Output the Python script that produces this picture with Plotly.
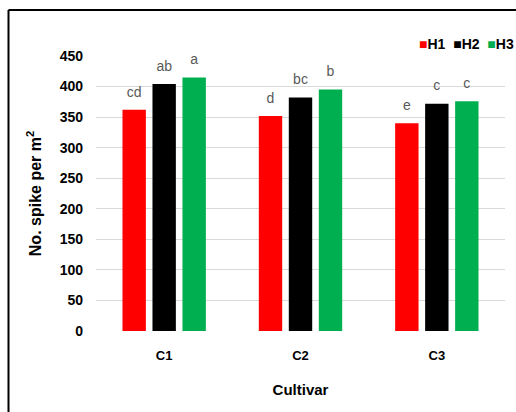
import plotly.graph_objects as go

cultivars = ["C1", "C2", "C3"]
series_names = ["H1", "H2", "H3"]
h1 = [362, 352, 340]
h2 = [404, 382, 372]
h3 = [415, 395, 376]
labels_h1 = ["cd", "d", "e"]
labels_h2 = ["ab", "bc", "c"]
labels_h3 = ["a", "b", "c"]
colors = ["#FF0000", "#000000", "#00B050"]
y_ticks = [0, 50, 100, 150, 200, 250, 300, 350, 400, 450]

FONT = "Liberation Sans, Arial, sans-serif"

fig = go.Figure()
for name, vals, labs, col in zip(series_names, [h1, h2, h3], [labels_h1, labels_h2, labels_h3], colors):
    fig.add_trace(go.Bar(
        x=cultivars, y=vals, name=name, offsetgroup=name,
        marker=dict(color=col, line=dict(width=0)), showlegend=False,
    ))
    fig.add_trace(go.Scatter(
        x=cultivars, y=vals, name=name, offsetgroup=name, mode="markers+text",
        marker=dict(size=14, opacity=0), text=labs, textposition="top center",
        textfont=dict(color="#595959", size=14, family=FONT),
        showlegend=False, hoverinfo="skip", cliponaxis=False,
    ))

W, H = 516, 412
L, R, T, B = 96, 11, 56, 81
pw, ph = W - L - R, H - T - B

def px(xi):
    return (xi - L) / pw

def py(yi):
    return (H - B - yi) / ph

legend_txt = "  ".join(
    f"<span style='color:{c}'>■</span><b>{n}</b>" for n, c in zip(series_names, colors)
)

fig.update_layout(
    width=W, height=H,
    margin=dict(l=L, r=R, t=T, b=B),
    paper_bgcolor="white", plot_bgcolor="white",
    barmode="group", bargap=0.34, bargroupgap=0.22,
    scattermode="group", scattergap=0.34,
    font=dict(family=FONT, color="#000000", size=13),
    showlegend=False,
    xaxis=dict(showgrid=False, showline=False, ticks="", ticklabelstandoff=15,
               tickvals=cultivars, ticktext=[f"<b>{c}</b>" for c in cultivars],
               tickfont=dict(size=13, family=FONT, color="#000"),
               title=dict(text="<b>Cultivar</b>", font=dict(size=15, family=FONT, color="#000"), standoff=22)),
    yaxis=dict(range=[0, 450], tickvals=y_ticks, ticktext=[f"<b>{v}</b>" for v in y_ticks],
               showgrid=True, gridcolor="#D9D9D9", gridwidth=1, zeroline=False, showline=False,
               ticks="", ticklabelstandoff=12, tickfont=dict(size=14, family=FONT, color="#000"),
               title=dict(text="<b>No. spike per m<sup>2</sup></b>", font=dict(size=16, family=FONT, color="#000"), standoff=14)),
    annotations=[
        dict(xref="paper", yref="paper", x=px(516), y=py(44), xanchor="right", yanchor="middle",
             text=legend_txt, showarrow=False, font=dict(size=14, family=FONT, color="#000")),
    ],
    shapes=[
        dict(type="line", xref="paper", yref="paper", x0=px(8.5), x1=px(516), y0=py(10), y1=py(10),
             line=dict(color="black", width=2)),
        dict(type="line", xref="paper", yref="paper", x0=px(8.5), x1=px(8.5), y0=py(10), y1=py(412),
             line=dict(color="black", width=2)),
    ],
)

fig.write_html(
    "out.html",
    config={"displayModeBar": False},
    post_script="document.body.style.margin='0';document.body.style.overflow='hidden';",
)
